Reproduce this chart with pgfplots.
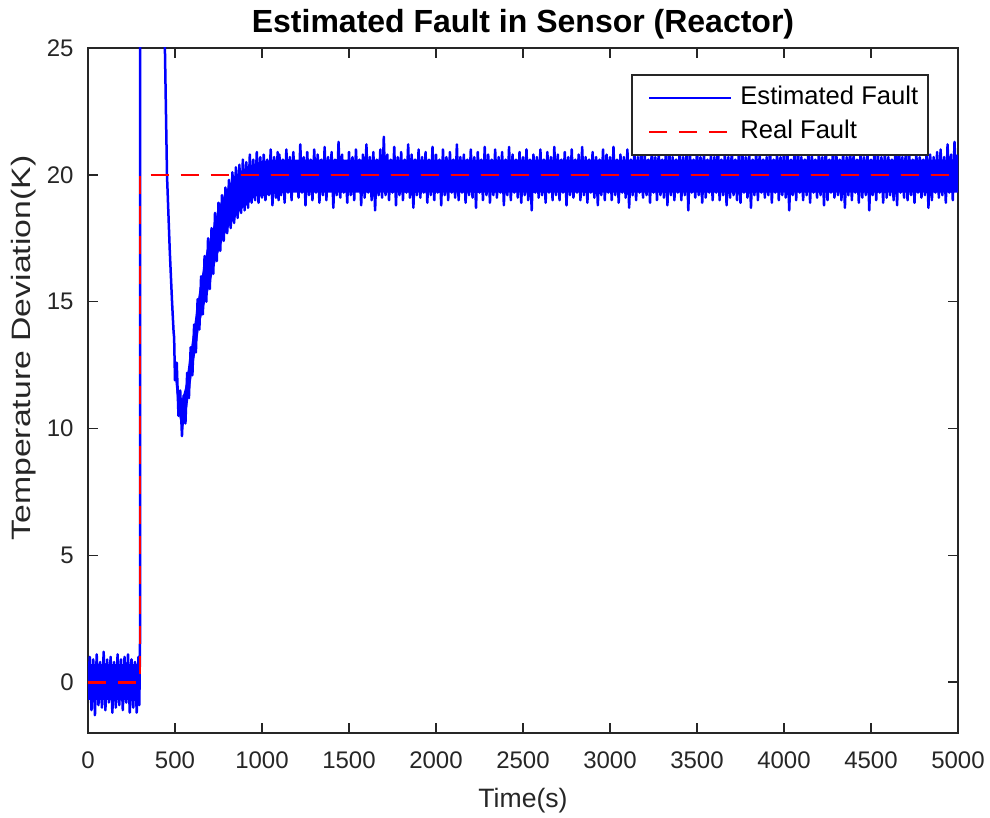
\documentclass[border=0pt]{standalone}
\usepackage{fontspec}
\setmainfont{Liberation Sans}
\usepackage{graphicx}
\usepackage{pgfplots}
\pgfplotsset{compat=1.18}
\definecolor{axgray}{gray}{0.15}
\definecolor{mblue}{rgb}{0,0,1}
\definecolor{mred}{rgb}{1,0,0}
\begin{document}
\begin{tikzpicture}
\begin{axis}[
  at={(0,0)}, anchor=south west,
  scale only axis, width=435pt, height=342.5pt,
  xmin=0, xmax=5000, ymin=-2, ymax=25,
  xtick={0,500,...,5000}, ytick={0,5,...,25},
  tick align=inside, major tick length=5pt,
  axis line style={axgray, line width=0.8pt},
  every tick/.style={axgray, line width=0.8pt},
  /pgf/number format/assume math mode=true,
  /pgf/number format/1000 sep={},
  scaled x ticks=false,
  ticklabel style={font=\fontsize{12}{14}\selectfont, text=axgray, inner sep=0pt},
  xticklabel style={anchor=center, yshift=-13.5pt},
  yticklabel style={anchor=east, xshift=-7pt},
  xlabel={Time(s)},
  ylabel={\scalebox{1.27}[1]{Temperature Deviation(K)}},
  label style={font=\fontsize{13.3}{16}\selectfont, text=axgray},
  xlabel style={at={(axis description cs:0.5,-0.098)}, anchor=center},
  ylabel style={at={(axis description cs:-0.074,0.562)}, anchor=center, rotate=0},
  title={Estimated Fault in Sensor (Reactor)},
  title style={font=\fontsize{16}{19}\selectfont\bfseries, at={(axis description cs:0.5,1)}, anchor=center, yshift=6pt},
  legend style={at={(rel axis cs:0.9667,0.962)}, anchor=north east,
    draw=black!85, line width=0.8pt, fill=white,
    font=\fontsize{12.8}{15}\selectfont,
    nodes={inner sep=0pt, text height=9.5pt, text depth=3pt},
    inner xsep=5pt, inner ysep=5.25pt, row sep=4.5pt, column sep=4pt},
  legend cell align=left,
  legend image code/.code={\path (0pt,0pt); \draw[#1] (3pt,0pt) -- (44pt,0pt);},
]
% dense core of the noisy estimate
\addplot[fill=mblue, draw=none, forget plot] coordinates {
(0,-0.7)(296,-0.7)(296,0.7)(0,0.7)
};
\addplot[fill=mblue, draw=none, forget plot] coordinates {
(500,12.5)(520,11.45)(540,11.15)(560,11.65)(580,12.65)(600,13.55)(620,14.55)(640,15.45)(660,16.25)(680,16.95)
(700,17.45)(720,17.95)(740,18.45)(760,18.85)(780,19.15)(800,19.45)(840,19.95)(880,20.15)(920,20.35)(960,20.45)
(1000,20.55)(1100,20.6)(5000,20.6)
(5000,19.3)(1100,19.3)(1000,19.15)(960,19.15)(920,18.85)(880,18.65)(840,18.25)(800,17.85)(780,17.55)
(760,17.15)(740,16.75)(720,16.25)(700,15.65)(680,15.15)(660,14.65)(640,14.05)(620,13.15)(600,12.25)(580,11.35)
(560,10.35)(540,9.95)(520,10.65)(500,12.0)
};
\addplot[mblue, line width=1.25pt, line join=round] coordinates {
(0,-0.3)(10,1.0)(20,-1.1)(30,0.9)(40,-1.3)(50,1.1)(60,-0.9)(70,0.8)(80,-1.0)(90,1.2)
(100,-1.1)(110,0.9)(120,-0.8)(130,1.0)(140,-1.2)(150,0.8)(160,-1.0)(170,1.1)(180,-0.9)(190,0.9)
(200,-1.1)(210,1.0)(220,-0.8)(230,1.1)(240,-1.2)(250,0.9)(260,-1.0)(270,0.8)(280,-1.2)(290,1.0)
(295,-0.9)(299,1.6)(300,100)(430,30)(442,25)(454,20)(470,17)(483,15)(492,13.8)(495,13.6)
(500,11.9)(510,12.6)(520,10.5)(530,11.5)(540,9.7)(550,11.3)(560,10.2)(570,12.2)(580,11.2)(590,13.2)
(600,12.1)(610,14.1)(620,13.0)(630,15.1)(640,13.9)(650,16.0)(660,14.5)(670,16.8)(680,15.0)(690,17.5)
(700,15.5)(710,17.9)(720,16.1)(730,18.5)(740,16.6)(750,18.9)(760,17.0)(770,19.2)(780,17.4)(790,19.5)
(800,17.7)(810,19.8)(820,17.9)(830,20.1)(840,18.1)(850,20.3)(860,18.3)(870,20.4)(880,18.5)(890,20.6)
(900,18.6)(910,20.5)(920,18.7)(930,20.8)(940,18.9)(950,20.6)(960,19.0)(970,20.9)(980,18.9)(990,20.7)
(1000,19.1)(1010,20.8)(1020,19.0)(1030,20.6)(1040,19.2)(1050,21.0)(1060,18.8)(1070,20.7)(1080,19.1)(1090,20.9)(1095,19.0)
(1100,20.8)(1110,19.2)(1120,20.6)(1130,18.9)(1140,21.0)(1150,19.3)(1160,20.7)(1170,19.0)(1180,20.9)(1190,19.4)
(1200,20.5)(1210,19.1)(1220,21.2)(1230,19.3)(1240,20.7)(1250,18.8)(1260,20.9)(1270,19.2)(1280,20.6)(1290,19.0)
(1300,21.0)(1310,19.3)(1320,20.8)(1330,18.9)(1340,20.6)(1350,19.2)(1360,21.1)(1370,19.0)(1380,20.7)(1390,19.4)
(1400,20.9)(1410,18.7)(1420,20.6)(1430,19.2)(1440,21.3)(1450,19.1)(1460,20.8)(1470,19.3)(1480,20.5)(1490,18.9)
(1500,20.9)(1510,19.2)(1520,20.7)(1530,19.0)(1540,21.0)(1550,19.4)(1560,20.6)(1570,18.8)(1580,20.8)(1590,19.1)
(1600,21.2)(1610,19.3)(1620,20.7)(1630,19.0)(1640,20.9)(1650,18.6)(1660,20.6)(1670,19.2)(1680,21.0)(1690,19.1)
(1700,21.5)(1710,19.2)(1720,20.8)(1730,19.0)(1740,20.6)(1750,19.3)(1760,21.1)(1770,18.8)(1780,20.7)(1790,19.2)
(1800,20.9)(1810,19.0)(1820,20.6)(1830,19.3)(1840,21.2)(1850,19.1)(1860,20.8)(1870,18.7)(1880,20.6)(1890,19.2)
(1900,21.0)(1910,19.1)(1920,20.7)(1930,19.3)(1940,20.9)(1950,18.9)(1960,20.6)(1970,19.2)(1980,21.1)(1990,19.0)
(2000,20.8)(2010,19.3)(2020,20.6)(2030,18.8)(2040,21.0)(2050,19.2)(2060,20.7)(2070,19.0)(2080,20.9)(2090,19.3)
(2100,20.6)(2110,19.1)(2120,21.2)(2130,19.0)(2140,20.7)(2150,19.3)(2160,20.8)(2170,18.9)(2180,20.6)(2190,19.2)
(2200,21.0)(2210,19.1)(2220,20.7)(2230,18.7)(2240,20.9)(2250,19.3)(2260,20.6)(2270,19.0)(2280,21.1)(2290,19.2)
(2300,20.8)(2310,18.9)(2320,20.6)(2330,19.2)(2340,21.0)(2350,19.1)(2360,20.7)(2370,19.3)(2380,20.9)(2390,18.8)
(2400,20.6)(2410,19.2)(2420,21.1)(2430,19.0)(2440,20.8)(2450,19.3)(2460,20.6)(2470,19.1)(2480,20.9)(2490,18.9)
(2500,20.7)(2510,19.2)(2520,21.0)(2530,19.0)(2540,20.6)(2550,18.6)(2560,20.8)(2570,19.3)(2580,20.7)(2590,19.1)
(2600,21.0)(2610,19.2)(2620,20.6)(2630,18.9)(2640,20.9)(2650,19.3)(2660,20.7)(2670,19.0)(2680,21.1)(2690,19.2)
(2700,20.8)(2710,19.0)(2720,20.6)(2730,19.3)(2740,20.9)(2750,18.8)(2760,20.7)(2770,19.2)(2780,21.0)(2790,19.1)
(2800,20.6)(2810,19.3)(2820,20.8)(2830,19.0)(2840,21.1)(2850,19.2)(2860,20.7)(2870,18.9)(2880,20.6)(2890,19.3)
(2900,20.9)(2910,19.1)(2920,20.7)(2930,18.8)(2940,20.6)(2950,19.2)(2960,21.0)(2970,19.0)(2980,20.8)(2990,19.3)
(3000,20.7)(3010,19.0)(3020,21.1)(3030,19.2)(3040,20.6)(3050,18.9)(3060,20.8)(3070,19.3)(3080,20.7)(3090,19.1)
(3100,21.0)(3110,18.7)(3120,20.6)(3130,19.2)(3140,20.9)(3150,19.0)(3160,20.7)(3170,19.3)(3180,21.1)(3190,19.1)
(3200,20.8)(3210,19.2)(3220,20.6)(3230,18.9)(3240,21.0)(3250,19.3)(3260,20.7)(3270,19.0)(3280,20.9)(3290,19.2)
(3300,20.6)(3310,19.1)(3320,20.8)(3330,18.8)(3340,21.1)(3350,19.2)(3360,20.7)(3370,19.0)(3380,20.6)(3390,19.3)
(3400,20.9)(3410,19.0)(3420,20.7)(3430,19.2)(3440,21.0)(3450,18.6)(3460,20.8)(3470,19.3)(3480,20.6)(3490,19.1)
(3500,21.0)(3510,19.2)(3520,20.7)(3530,18.9)(3540,20.9)(3550,19.1)(3560,20.6)(3570,19.3)(3580,20.8)(3590,19.0)
(3600,20.7)(3610,19.3)(3620,21.2)(3630,19.0)(3640,20.6)(3650,19.2)(3660,20.9)(3670,18.8)(3680,20.7)(3690,19.1)
(3700,21.0)(3710,19.2)(3720,20.6)(3730,19.0)(3740,20.8)(3750,18.9)(3760,21.1)(3770,19.3)(3780,20.7)(3790,19.1)
(3800,20.9)(3810,18.7)(3820,20.6)(3830,19.2)(3840,21.0)(3850,19.0)(3860,20.8)(3870,19.3)(3880,20.6)(3890,19.1)
(3900,20.7)(3910,19.2)(3920,21.1)(3930,18.9)(3940,20.6)(3950,19.3)(3960,20.9)(3970,19.0)(3980,20.7)(3990,19.2)
(4000,21.0)(4010,19.1)(4020,20.8)(4030,18.6)(4040,20.6)(4050,19.2)(4060,20.9)(4070,19.0)(4080,21.1)(4090,19.3)
(4100,20.7)(4110,19.0)(4120,20.6)(4130,19.2)(4140,21.0)(4150,18.9)(4160,20.8)(4170,19.3)(4180,20.6)(4190,19.1)
(4200,20.9)(4210,19.2)(4220,20.7)(4230,18.8)(4240,21.1)(4250,19.0)(4260,20.6)(4270,19.3)(4280,20.8)(4290,19.1)
(4300,21.0)(4310,19.2)(4320,20.6)(4330,19.0)(4340,20.9)(4350,18.7)(4360,20.7)(4370,19.2)(4380,21.1)(4390,19.0)
(4400,20.8)(4410,19.3)(4420,20.6)(4430,18.9)(4440,21.0)(4450,19.1)(4460,20.7)(4470,19.2)(4480,20.9)(4490,18.6)
(4500,20.6)(4510,19.2)(4520,21.1)(4530,19.0)(4540,20.8)(4550,19.3)(4560,20.7)(4570,18.9)(4580,21.0)(4590,19.1)
(4600,20.7)(4610,19.2)(4620,20.6)(4630,19.0)(4640,20.9)(4650,18.8)(4660,21.2)(4670,19.3)(4680,20.7)(4690,19.1)
(4700,21.0)(4710,19.0)(4720,20.8)(4730,19.2)(4740,20.6)(4750,18.9)(4760,20.9)(4770,19.3)(4780,20.7)(4790,19.1)
(4800,20.6)(4810,19.2)(4820,21.1)(4830,18.7)(4840,20.8)(4850,19.0)(4860,20.7)(4870,19.3)(4880,20.9)(4890,19.1)
(4900,21.0)(4910,19.2)(4920,20.7)(4930,18.9)(4940,21.2)(4950,19.3)(4960,20.8)(4970,19.0)(4980,21.3)(4990,19.4)
(5000,20.8)
};
\addlegendentry{Estimated Fault}
\addplot[mred, line width=1.3pt, dash pattern=on 9pt off 6pt] coordinates {
(0,0)(300,0)(300,20)(5000,20)
};
\addlegendentry{Real Fault}
\end{axis}
\pgfresetboundingbox
\path (-44pt,-42.5pt) rectangle (451pt,366.5pt);
\end{tikzpicture}
\end{document}
